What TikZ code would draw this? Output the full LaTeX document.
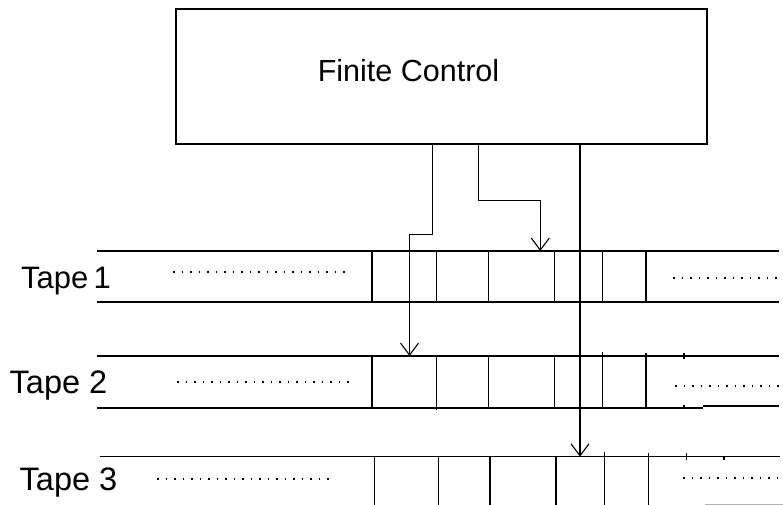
\documentclass[tikz,border=0pt]{standalone}
\usepackage{fontspec}
\setmainfont{Liberation Sans}
\usetikzlibrary{arrows.meta}
\begin{document}
\begin{tikzpicture}[x=1pt,y=-1pt,
  ln/.style={line width=1.5pt,black},
  dots/.style={line width=1.6pt,dash pattern=on 1.6pt off 6.9pt,black},
  conn/.style={line width=1.5pt,-{Straight Barb[length=12pt,width=18pt,line width=1.1pt]}},
  lbl/.style={inner sep=0pt,anchor=base,font=\fontsize{31}{36}\selectfont}]
\useasboundingbox (0,0) rectangle (783,505);
% finite control
\node[draw,line width=1.6pt,minimum width=531pt,minimum height=135pt,inner sep=0pt] (fc) at (441.5,76.5) {};
\node[lbl,font=\fontsize{30.5}{36}\selectfont] (fctext) at (408.5,81.7) {Finite Control};
% labels
\node[lbl] (t1) at (66,288.3) {Tape\,1};
\node[lbl,font=\fontsize{32.5}{38}\selectfont] (t2) at (58.5,393) {Tape 2};
\node[lbl,font=\fontsize{32.5}{38}\selectfont] (t3) at (68.5,490) {Tape 3};
% tape 1
\draw[ln] (97,251) -- (779,251);
\draw[ln] (97,302) -- (779,302);
\foreach \x in {372,436.7,488.3,554.3,602.3,646} \draw[ln] (\x,251) -- (\x,302);
\draw[dots] (173,272) -- (345,272);
\draw[dots] (673,278) -- (781,278);
% tape 2
\draw[ln] (97,356) -- (779,356);
\draw[ln] (97,408) -- (703,408);
\draw[ln] (703,406) -- (779,406);
\foreach \x in {372,488.3,554.3} \draw[ln] (\x,356) -- (\x,408);
\draw[ln] (436.7,356) -- (436.7,410);
\draw[ln] (602.3,351.5) -- (602.3,408);
\draw[ln] (646,353) -- (646,408);
\draw[ln] (684,352.5) -- (684,359);
\draw[ln] (684,405) -- (684,409);
\draw[dots] (177,382) -- (349,382);
\draw[dots] (675,386) -- (781,386);
% tape 3
\draw[ln] (100,456.7) -- (780,456.7);
\foreach \x in {374.3,438.3,490,556} \draw[ln] (\x,456.7) -- (\x,505);
\draw[ln] (604.3,451.7) -- (604.3,505);
\draw[ln] (648.3,453) -- (648.3,505);
\draw[ln] (686.5,453) -- (686.5,460);
\draw[ln] (724,456) -- (724,459.5);
\draw[dots] (157,479) -- (330,479);
\draw[dots] (683,478) -- (781,478);
\draw[line width=1pt,black!30] (705,504) -- (783,504);
% connector targets
\coordinate (h1) at (409.5,356);
\coordinate (h2) at (540.3,251);
\coordinate (h3) at (580,456.7);
% connectors
\draw[conn] (fc.south -| 432.7,0) -- (432.7,234.3) -- (409.5,234.3) -- (h1);
\draw[conn] (fc.south -| 478.3,0) -- (478.3,200.3) -- (540.3,200.3) -- (h2);
\draw[conn] (fc.south -| 580,0) -- (h3);
\end{tikzpicture}
\end{document}
